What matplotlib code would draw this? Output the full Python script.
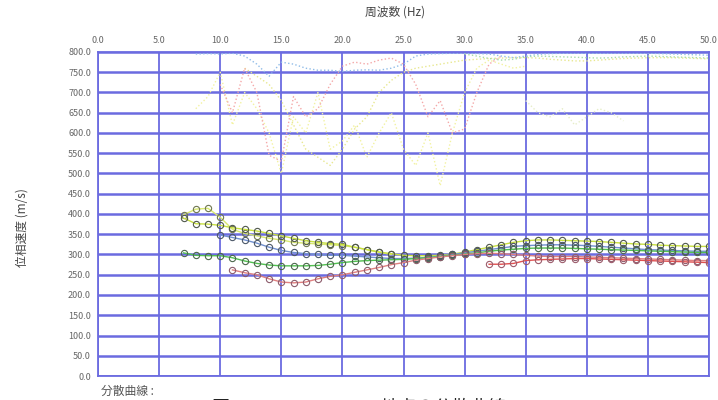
import matplotlib.pyplot as plt

plt.rcParams['font.family'] = ['Noto Sans CJK JP', 'DejaVu Sans']

# 観測分散曲線 (周波数 Hz, 位相速度 m/s)
freq_a = [7, 8, 9, 10, 11, 12, 13, 14, 15, 16, 17, 18, 19, 20, 21, 22, 23, 24, 25, 26, 27, 28,
          29, 30, 31, 32, 33, 34, 35, 36, 37, 38, 39, 40, 41, 42, 43, 44, 45, 46, 47, 48, 49, 50]
vel_a = [390, 376, 375, 372, 366, 362, 358, 352, 346, 340, 334, 330, 327, 325, 318, 312, 306, 302,
         298, 297, 297, 298, 301, 306, 312, 318, 324, 330, 334, 336, 336, 335, 334, 333, 332, 330,
         328, 326, 325, 323, 322, 321, 320, 320]

freq_b = [7, 8, 9, 10, 11, 12, 13, 14, 15, 16, 17, 18, 19, 20, 21, 22, 23, 24]
vel_b = [398, 412, 414, 392, 362, 352, 346, 340, 336, 330, 328, 326, 324, 322, 318, 312, 306, 300]

freq_c = [10, 11, 12, 13, 14, 15, 16, 17, 18, 19, 20, 21, 22, 23, 24, 25, 26, 27, 28, 29, 30,
          31, 32, 33, 34, 35, 36, 37, 38, 39, 40, 41, 42, 43, 44, 45, 46, 47, 48, 49, 50]
vel_c = [348, 342, 336, 328, 318, 310, 305, 302, 300, 298, 298, 296, 294, 292, 290, 290, 291, 293,
         296, 300, 304, 308, 312, 316, 320, 322, 323, 324, 324, 323, 322, 320, 318, 316, 314, 312,
         311, 310, 309, 308, 308]

freq_d = [7, 8, 9, 10, 11, 12, 13, 14, 15, 16, 17, 18, 19, 20, 21, 22, 23, 24, 25, 26, 27, 28,
          29, 30, 31, 32, 33, 34, 35, 36, 37, 38, 39, 40, 41, 42, 43, 44, 45, 46, 47, 48, 49, 50]
vel_d = [304, 298, 297, 297, 292, 284, 278, 274, 272, 272, 272, 273, 276, 280, 283, 285, 286, 287,
         288, 290, 292, 295, 298, 301, 304, 308, 311, 313, 315, 316, 316, 316, 315, 314, 313, 312,
         311, 310, 309, 308, 307, 306, 305, 305]

freq_e = [11, 12, 13, 14, 15, 16, 17, 18, 19, 20, 21, 22, 23, 24, 25, 26, 27, 28, 29, 30, 31,
          32, 33, 34, 35, 36, 37, 38, 39, 40, 41, 42, 43, 44, 45, 46, 47, 48, 49, 50]
vel_e = [262, 255, 250, 240, 232, 230, 232, 240, 246, 250, 256, 262, 268, 275, 280, 286, 290, 294,
         297, 300, 302, 303, 302, 300, 298, 296, 295, 295, 295, 294, 293, 292, 291, 290, 289, 288,
         287, 286, 285, 285]

freq_f = [32, 33, 34, 35, 36, 37, 38, 39, 40, 41, 42, 43, 44, 45, 46, 47, 48, 49, 50]
vel_f = [276, 276, 278, 285, 287, 288, 289, 290, 290, 289, 288, 287, 286, 285, 284, 283, 282, 281, 280]

# 理論曲線 (点線, 高次モード)
freq_p = [10, 11, 12, 13, 14, 15, 16, 17, 18, 19, 20, 21, 22, 23, 24, 25, 26, 27, 28, 29, 30, 31, 32, 33]
vel_p = [720, 650, 760, 700, 545, 530, 690, 640, 660, 720, 765, 775, 770, 780, 785, 770, 720, 640,
         680, 600, 610, 700, 770, 790]

freq_y = [8, 9, 10, 11, 12, 13, 14, 15, 16, 17, 18, 19, 20, 21, 22, 23, 24, 25, 26, 27, 28, 29,
          30, 31, 32, 33, 34, 35]
vel_y = [660, 690, 750, 620, 700, 660, 600, 500, 640, 600, 700, 560, 580, 620, 540, 600, 650, 560,
         520, 600, 470, 600, 700, 760, 780, 770, 760, 765]

freq_y2 = [12, 13, 14, 15, 16, 17, 18, 19, 20, 21, 22, 23, 24, 25, 26, 27, 28, 29, 30, 31, 32,
           33, 34, 35, 36, 37, 38, 39, 40, 41, 42, 43, 44, 45, 46, 47, 48, 49, 50]
vel_y2 = [760, 740, 720, 680, 620, 560, 540, 520, 560, 610, 640, 700, 730, 750, 760, 765, 770,
          775, 780, 782, 784, 785, 786, 786, 785, 782, 780, 778, 778, 780, 782, 784, 785, 786, 786,
          786, 785, 784, 783]

freq_g = [35, 36, 37, 38, 39, 40, 41, 42, 43]
vel_g = [680, 650, 640, 660, 620, 640, 660, 650, 630]

freq_bl = [8, 9, 10, 11, 12, 13, 14, 15, 16, 17, 18, 19, 20, 21, 22, 23, 24, 25, 26, 27, 28, 29,
           30, 31, 32, 33, 34, 35, 36, 37, 38, 39, 40, 41, 42, 43, 44, 45, 46, 47, 48, 49, 50]
vel_bl = [795, 796, 795, 797, 790, 770, 740, 775, 770, 760, 755, 755, 752, 755, 756, 755, 760,
          770, 790, 795, 796, 797, 797, 796, 795, 790, 786, 790, 794, 796, 797, 797, 797, 797, 797,
          797, 797, 797, 796, 795, 794, 793, 792]

freq_gr = [30, 31, 32, 33, 34, 35, 36, 37, 38, 39, 40, 41, 42, 43, 44, 45, 46, 47, 48, 49, 50]
vel_gr = [795, 790, 784, 780, 782, 788, 790, 789, 788, 787, 786, 785, 786, 788, 789, 790, 789,
          788, 787, 786, 785]

x_ticks = [0, 5, 10, 15, 20, 25, 30, 35, 40, 45, 50]
y_ticks = list(range(0, 801, 50))

grid_color = '#6b6be0'

fig = plt.figure(figsize=(7.18, 4.0), dpi=100)
ax = fig.add_axes([0.1365, 0.06, 0.851, 0.81])

# 点線 (理論)
ax.plot(freq_y, vel_y, ':', color='#f2f2a0', lw=1.0)
ax.plot(freq_y2, vel_y2, ':', color='#e8e890', lw=1.0)
ax.plot(freq_g, vel_g, ':', color='#e6eec8', lw=1.0)
ax.plot(freq_p, vel_p, ':', color='#f4a8a8', lw=1.0)
ax.plot(freq_bl, vel_bl, ':', color='#90bce8', lw=1.0)
ax.plot(freq_gr, vel_gr, ':', color='#a8dca8', lw=1.0)

# 観測値 (丸印)
series = [
    (freq_b, vel_b, '#d8e870', '#707850'),
    (freq_a, vel_a, '#c8e040', '#50584c'),
    (freq_c, vel_c, '#7090d0', '#4c5868'),
    (freq_d, vel_d, '#50c050', '#4c684c'),
    (freq_e, vel_e, '#e08080', '#8c5c6c'),
    (freq_f, vel_f, '#e05050', '#9c5c6c'),
]
for f, v, lc, mc in series:
    ax.plot(f, v, '-', color=lc, lw=1.0, marker='o', markersize=4.5,
            markerfacecolor='none', markeredgecolor=mc, markeredgewidth=0.8)

ax.set_xlim(0, 50)
ax.set_ylim(0, 800)
ax.set_xticks(x_ticks)
ax.set_yticks(y_ticks)
ax.set_xticklabels([f'{t:.1f}' for t in x_ticks])
ax.set_yticklabels([f'{t:.1f}' for t in y_ticks])
ax.xaxis.tick_top()
ax.tick_params(length=0, labelsize=6.5, labelcolor='#666666', pad=5)
ax.grid(axis='x', color=grid_color, lw=1.3)
ax.grid(axis='y', color=grid_color, lw=1.8)
ax.set_axisbelow(True)
for s in ax.spines.values():
    s.set_color(grid_color)
    s.set_linewidth(1.3)

fig.text(0.55, 0.97, '周波数 (Hz)', ha='center', va='center', fontsize=8.5, color='#444444')
fig.text(0.03, 0.43, '位相速度 (m/s)', ha='center', va='center', rotation=90,
         fontsize=8.5, color='#444444')
fig.text(0.14, 0.022, '分散曲線 :', ha='left', va='center', fontsize=8.5, color='#555555')
# 図番号 (下端で切れている)
fig.text(0.295, -0.032, '図', ha='left', va='baseline', fontsize=13, color='#222222')
fig.text(0.53, -0.032, '地点の分散曲線', ha='left', va='baseline', fontsize=13, color='#222222')

fig.savefig('out.png', dpi=100)
